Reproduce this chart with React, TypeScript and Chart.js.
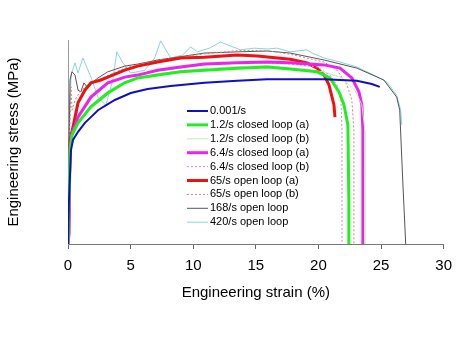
import React, { useEffect, useRef } from 'react';
import { Chart, registerables } from 'chart.js';

Chart.register(...registerables);

const xTicks = [0, 5, 10, 15, 20, 25, 30];

const seriesLabels = [
  '0.001/s',
  '1.2/s closed loop (a)',
  '1.2/s closed loop (b)',
  '6.4/s closed loop (a)',
  '6.4/s closed loop (b)',
  '65/s open loop (a)',
  '65/s open loop (b)',
  '168/s open loop',
  '420/s open loop',
];

const strainA = [0, 0.08, 0.24, 0.4, 0.8, 1.35, 1.83, 2.39, 3.74, 5.01, 6.36, 8.19, 10.9, 13.52, 15.91, 20.45, 23.07, 24.26, 24.9];
const stressA = [0, 108, 230, 255, 275, 297, 311, 328, 353, 370, 380, 387, 395, 400, 404, 404, 400, 392, 385];

const strainB = [0, 0.08, 0.16, 0.32, 0.8, 1.83, 3.18, 4.53, 5.57, 7.16, 8.99, 10.9, 13.52, 15.91, 17.74, 19.89, 20.92, 21.64, 22.04, 22.35, 22.43, 22.43];
const stressB = [0, 108, 230, 267, 297, 336, 370, 395, 407, 414, 422, 426, 431, 434, 429, 422, 407, 373, 341, 292, 108, 0];

const strainC = [0, 0.08, 0.16, 0.32, 0.8, 1.83, 3.18, 4.53, 7.16, 10.9, 13.52, 15.91, 17.74, 20.45, 21.88, 22.91, 23.47, 23.71, 23.71];
const stressC = [0, 108, 230, 270, 300, 340, 375, 398, 418, 430, 435, 437, 431, 422, 407, 377, 341, 279, 0];

const strainD = [0, 0.08, 0.16, 0.24, 0.8, 1.83, 3.18, 4.53, 5.57, 7.16, 8.99, 10.9, 13.52, 15.91, 17.74, 20.45, 21.72, 22.67, 23.23, 23.47, 23.55, 23.55];
const stressD = [0, 108, 230, 262, 311, 360, 395, 409, 414, 426, 434, 441, 444, 446, 444, 439, 431, 407, 373, 341, 279, 0];

const strainE = [0, 0.08, 0.16, 0.32, 0.8, 1.83, 3.18, 4.53, 7.16, 10.9, 13.52, 15.91, 17.74, 19.89, 20.92, 21.48, 21.8, 21.88, 21.88];
const stressE = [0, 108, 230, 279, 311, 360, 392, 407, 424, 439, 443, 444, 441, 434, 414, 390, 353, 279, 0];

const strainF = [0, 0.08, 0.16, 0.4, 0.8, 1.35, 1.83, 2.63, 3.18, 4.53, 5.57, 7.16, 8.99, 10.9, 13.52, 15.12, 17.74, 19.09, 19.89, 20.45, 20.84, 21.24, 21.32];
const stressF = [0, 27, 255, 287, 346, 377, 395, 402, 409, 426, 436, 446, 456, 458, 463, 461, 453, 444, 431, 414, 390, 341, 311];

const strainG = [0, 0.08, 0.24, 0.32, 0.56, 0.95, 1.59, 2.39, 4.53, 7.16, 10.9, 13.52, 15.91, 17.74, 20.45, 21.48, 22.28, 22.67, 22.83, 22.83];
const stressG = [0, 230, 385, 328, 353, 373, 390, 402, 431, 451, 466, 474, 474, 465, 446, 426, 390, 353, 279, 0];

const strainH = [0, 0.08, 0.16, 0.32, 0.56, 0.8, 1.03, 1.27, 1.59, 1.99, 2.39, 3.18, 4.53, 5.57, 7.16, 8.75, 10.9, 13.52, 15.91, 17.74, 20.45, 23.07, 25.22, 26.25, 26.49, 26.73, 26.97];
const stressH = [0, 230, 402, 422, 414, 377, 373, 395, 382, 397, 407, 422, 436, 441, 451, 458, 468, 471, 473, 468, 451, 431, 402, 360, 328, 157, 0];

const strainI = [0, 0.08, 0.24, 0.56, 0.8, 1.19, 1.83, 2.39, 3.02, 3.58, 3.9, 4.38, 5.01, 6.13, 6.92, 7.4, 8.19, 9.15, 9.79, 10.34, 11.3, 12.17, 13.76, 14.88, 15.91, 16.71, 17.74, 19.09, 19.49, 20.45, 21.72, 23.07, 24.42, 25.46, 26.25, 26.57, 26.65];
const stressI = [0, 230, 414, 444, 419, 456, 409, 360, 340, 402, 471, 444, 419, 426, 456, 498, 456, 463, 483, 471, 480, 495, 476, 480, 478, 480, 471, 476, 468, 456, 446, 434, 414, 397, 365, 328, 292];

const pairs = (xs: number[], ys: number[]) => xs.map((x, i) => ({ x, y: ys[i] }));

const FONT = '"Liberation Sans", Arial, Helvetica, sans-serif';

const insetLegend = {
  id: 'insetLegend',
  afterDatasetsDraw(chart: any) {
    const ctx = chart.ctx;
    const x0 = 187, x1 = 208, tx = 210, y0 = 111, dy = 13.9;
    ctx.save();
    ctx.font = '11px ' + FONT;
    ctx.textBaseline = 'middle';
    ctx.textAlign = 'left';
    chart.data.datasets.forEach((ds: any, i: number) => {
      const y = y0 + i * dy;
      ctx.strokeStyle = ds.borderColor;
      ctx.lineWidth = ds.borderWidth;
      ctx.setLineDash(ds.borderDash || []);
      ctx.beginPath();
      ctx.moveTo(x0, y);
      ctx.lineTo(x1, y);
      ctx.stroke();
      ctx.setLineDash([]);
      ctx.fillStyle = '#000';
      ctx.fillText(ds.label, tx, y);
    });
    ctx.restore();
  },
};

export default function App() {
  const ref = useRef<HTMLCanvasElement | null>(null);
  useEffect(() => {
    if (!ref.current) return;
    const styles = [
      { c: '#1010c0', w: 2, d: [] },
      { c: '#22ee22', w: 3, d: [] },
      { c: '#b8f0b8', w: 1, d: [] },
      { c: '#ee22ee', w: 3, d: [] },
      { c: '#e080e0', w: 1, d: [2, 2] },
      { c: '#ee1111', w: 3, d: [] },
      { c: '#d88080', w: 1, d: [2, 2] },
      { c: '#555555', w: 1, d: [] },
      { c: '#88d4dc', w: 1, d: [] },
    ];
    const seriesData = [
      pairs(strainA, stressA),
      pairs(strainB, stressB),
      pairs(strainC, stressC),
      pairs(strainD, stressD),
      pairs(strainE, stressE),
      pairs(strainF, stressF),
      pairs(strainG, stressG),
      pairs(strainH, stressH),
      pairs(strainI, stressI),
    ];
    const chart = new Chart(ref.current, {
      type: 'line',
      data: {
        datasets: seriesLabels.map((label, i) => ({
          label,
          data: seriesData[i],
          borderColor: styles[i].c,
          borderWidth: styles[i].w,
          borderDash: styles[i].d,
          pointRadius: 0,
          tension: 0,
          fill: false,
        })),
      },
      options: {
        responsive: false,
        animation: false,
        events: [],
        layout: { padding: { top: 40, right: 13, left: 0, bottom: 0 } },
        plugins: { legend: { display: false }, tooltip: { enabled: false } },
        scales: {
          x: {
            type: 'linear',
            min: 0,
            max: 30,
            afterBuildTicks: (s: any) => { s.ticks = xTicks.map((v) => ({ value: v })); },
            afterFit: (s: any) => { s.height = 96; },
            grid: { drawOnChartArea: false, drawTicks: true, tickLength: 5, color: '#666' },
            border: { display: true, color: '#777', width: 1 },
            ticks: { color: '#000', font: { family: FONT, size: 15 }, padding: 8, maxRotation: 0 },
            title: { display: true, text: 'Engineering strain (%)', color: '#000', font: { family: FONT, size: 15 }, padding: { top: 0, bottom: 38 } },
          },
          y: {
            type: 'linear',
            min: 0,
            max: 500,
            afterFit: (s: any) => { s.width = 68; },
            grid: { display: false },
            border: { display: true, color: '#999', width: 1 },
            ticks: { display: false },
            title: { display: true, text: 'Engineering stress (MPa)', color: '#000', font: { family: FONT, size: 15 }, padding: { top: 5, bottom: 0 } },
          },
        },
      },
      plugins: [insetLegend],
    } as any);
    return () => chart.destroy();
  }, []);
  return (
    <div style={{ position: 'absolute', left: 0, top: 0, width: 460, height: 340, background: '#fff' }}>
      <canvas ref={ref} width={460} height={340} />
    </div>
  );
}
